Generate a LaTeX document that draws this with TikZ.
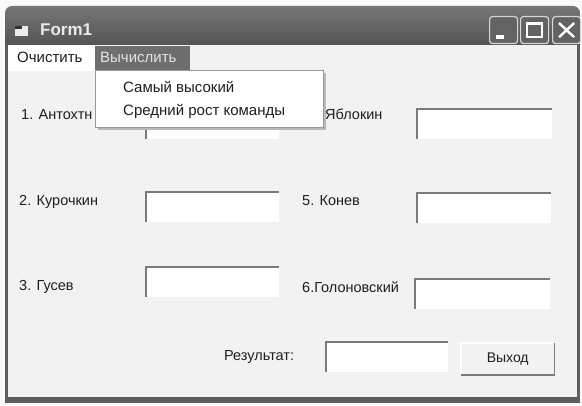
\documentclass[tikz,border=0pt]{standalone}
\usepackage{fontspec}
\setmainfont{Liberation Sans}
\definecolor{pagec}{HTML}{FAFAFA}
\definecolor{formc}{HTML}{F2F2F2}
\definecolor{framec}{HTML}{5E5E5E}
\definecolor{titletop}{HTML}{767676}
\definecolor{titlebot}{HTML}{555555}
\definecolor{textc}{HTML}{1E1E1E}
\definecolor{edgec}{HTML}{7A7A7A}
\definecolor{hilite}{HTML}{6E6E6E}
\definecolor{hilitetext}{HTML}{E4E4E4}
\definecolor{titletext}{HTML}{EAEAEA}
\definecolor{tbtnfill}{HTML}{636363}
\definecolor{tbtnedge}{HTML}{D8D8D8}
\begin{document}
\begin{tikzpicture}[x=1pt,y=-1pt,
  lbl/.style={anchor=base west, inner sep=0pt, text=textc, font=\fontsize{14.5}{16}\selectfont},
  menu/.style={anchor=base west, inner sep=0pt, text=textc, font=\fontsize{15}{17}\selectfont},
  tbox/.style={anchor=north west, fill=white, inner sep=0pt, minimum width=#1, minimum height=30},
  tbedge/.style={draw=edgec, line width=1.8pt},
  btn/.style={anchor=north west, fill=formc, inner sep=0pt, minimum width=93, minimum height=32, text=textc, font=\fontsize{14}{16}\selectfont},
  tbtn/.style={anchor=north west, draw=tbtnedge, line width=1.2pt, fill=tbtnfill, rounded corners=3pt, minimum width=28, minimum height=27, inner sep=0pt},
  glyph/.style={draw=white, line width=2pt}
]
\useasboundingbox (0,0) rectangle (582,406);
\fill[pagec] (0,0) rectangle (582,406);
% window body and frame
\fill[formc] (5,44) rectangle (580,402);
\fill[framec] (5,44) rectangle (8,402);
\fill[framec] (577,44) rectangle (580,402);
\fill[framec] (5,397) rectangle (580,403);
% title bar
\shade[top color=titletop, bottom color=titlebot]
  (5,45) [rounded corners=7pt] -- (5,6) -- (580,6) [sharp corners] -- (580,45) -- cycle;
% title icon
\fill[white!85!gray] (15,26) rectangle (28,36);
\fill[titlebot!60!black] (15,26) rectangle (22,29);
\node[anchor=base west, inner sep=0pt, text=titletext, font=\bfseries\fontsize{17}{19}\selectfont] (title) at (40,36) {Form1};
% title buttons
\node[tbtn] (bmin) at (489,16) {};
\node[tbtn] (bmax) at (520,16) {};
\node[tbtn] (bclose) at (552,16) {};
\fill[white] ([xshift=7pt,yshift=5pt]bmin.south west) rectangle ([xshift=15pt,yshift=9pt]bmin.south west);
\draw[glyph, line width=1.6pt] ([xshift=-7pt,yshift=-7pt]bmax.north east) rectangle ([xshift=7pt,yshift=7pt]bmax.south west);
\draw[glyph, line width=3pt] ([xshift=7pt,yshift=-8pt]bmax.north west) -- ([xshift=-7pt,yshift=-8pt]bmax.north east);
\draw[glyph, line width=2.4pt] ([xshift=7pt,yshift=-7pt]bclose.north west) -- ([xshift=-7pt,yshift=7pt]bclose.south east);
\draw[glyph, line width=2.4pt] ([xshift=-7pt,yshift=-7pt]bclose.north east) -- ([xshift=7pt,yshift=7pt]bclose.south west);
% menu bar
\fill[white] (8,45) rectangle (95,71);
\fill[hilite] (95,46) rectangle (190,71);
\node[menu] (mclear) at (17,63) {Очистить};
\node[menu, text=hilitetext] (mcalc) at (100,63) {Вычислить};
% labels and text boxes
\node[lbl] (l1) at (21,120) {1. Антохтн};
\node[lbl] (l4) at (325,120) {Яблокин};
\node[lbl] (l2) at (19,206) {2. Курочкин};
\node[lbl] (l5) at (302,206) {5. Конев};
\node[lbl] (l3) at (19,291) {3. Гусев};
\node[lbl] (l6) at (302,293) {6.Голоновский};
\node[lbl] (lres) at (224,361) {Результат:};
\node[tbox=133] (t1) at (146,109) {};
\node[tbox=135] (t4) at (417,109) {};
\node[tbox=133] (t2) at (146,192) {};
\node[tbox=134] (t5) at (417,193) {};
\node[tbox=133] (t3) at (146,267) {};
\node[tbox=135] (t6) at (415,279) {};
\node[tbox=122] (tres) at (326,342) {};
\foreach \n in {t1,t2,t3,t4,t5,t6,tres}
  \draw[tbedge] (\n.south west) |- (\n.north east);
% exit button
\node[btn] (exit) at (461,343) {Выход};
\draw[white, line width=1.5pt] (exit.south west) |- (exit.north east);
\draw[edgec, line width=1.8pt] (exit.south west) -| (exit.north east);
% dropdown menu
\fill[gray!55] (98,73) rectangle (326,130);
\draw[draw=gray!80, fill=white, line width=0.8pt] (95,70) rectangle (323,127);
\node[menu] (mhigh) at (123,93) {Самый высокий};
\node[menu] (mavg) at (123,116) {Средний рост команды};
\end{tikzpicture}
\end{document}
